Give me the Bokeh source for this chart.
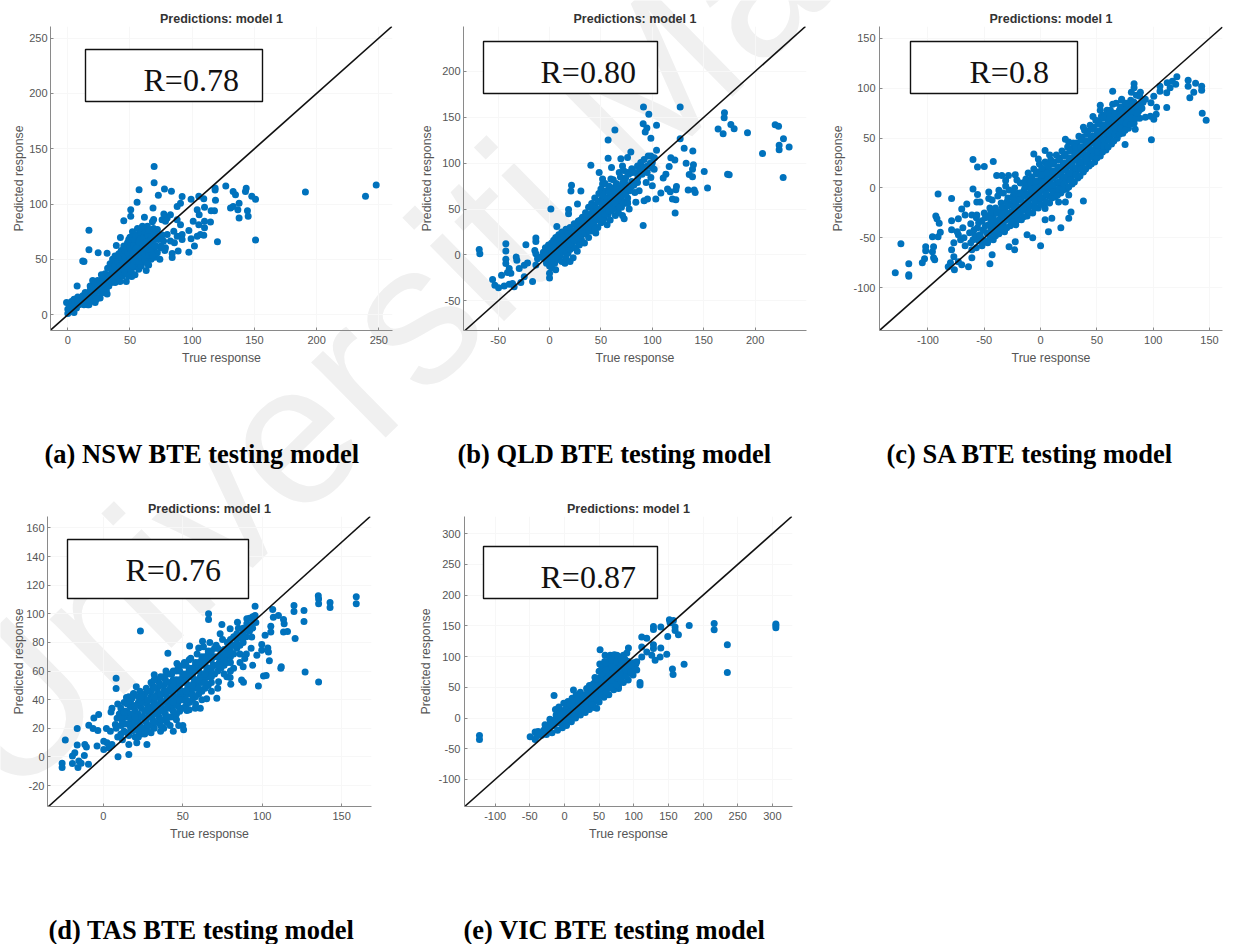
from bokeh.embed import file_html
from bokeh.resources import INLINE
from bokeh.layouts import column, row
from bokeh.models import Range1d, Label, BoxAnnotation, FixedTicker, PrintfTickFormatter
from bokeh.plotting import figure

TITLE = "Predictions: model 1"
XLABEL = "True response"
YLABEL = "Predicted response"
WATERMARK = "Universiti Malaya"

r_a, r_b, r_c, r_d, r_e = "R=0.78", "R=0.80", "R=0.8", "R=0.76", "R=0.87"
cap_a = "(a) NSW BTE testing model"
cap_b = "(b) QLD BTE testing model"
cap_c = "(c) SA BTE testing model"
cap_d = "(d) TAS BTE testing model"
cap_e = "(e) VIC BTE testing model"

xt_a = [0, 50, 100, 150, 200, 250]
yt_a = [0, 50, 100, 150, 200, 250]
xt_b = [-50, 0, 50, 100, 150, 200]
yt_b = [-50, 0, 50, 100, 150, 200]
xt_c = [-100, -50, 0, 50, 100, 150]
yt_c = [-100, -50, 0, 50, 100, 150]
xt_d = [0, 50, 100, 150]
yt_d = [-20, 0, 20, 40, 60, 80, 100, 120, 140, 160]
xt_e = [-100, -50, 0, 50, 100, 150, 200, 250, 300]
yt_e = [-100, -50, 0, 50, 100, 150, 200, 250, 300]

pts_a = [
 (69.4,134),(69.4,119.3),(57.3,113),(72.8,108),(77.7,113.7),(83.3,111.6),(55.7,101.7),(68.5,96.4),(50.6,94.9),(50.6,89),
 (45,85),(61.6,88),(69,86),(17,76.4),(42.3,69.8),(39,62.6),(17,58.8),(24.4,56),(12,48.6),(13,48),(31.6,55.5),(7.5,26),
 (51.4,34.6),(31.6,18.8),(22,11),(16,9),(127,116.3),(118.4,112.8),(118.4,114.5),(132.9,111.3),(134.8,108.3),(143.4,114.3),(142.8,111.3),
 (147.9,107),(150.9,104.4),(191,111),(239.3,107),(247.9,117.2),(150.9,67.4),(120.3,65.9),(137.7,87.4),(144.4,94),(145,88.9),
 (136.7,94.9),(137.7,100.8),(130.8,96.4),(132.9,97.9),(117.9,94),(115.2,94),(118.7,103.5),(109.3,104.7),(105.3,107),(99.1,104.4),
 (91.9,106.8),(90.6,100.8),(87.9,97.9),(77.2,91),(104,94.9),(109.9,97),(105.6,90.4),(109.9,84.4),(114.7,83.8),(109.9,78.5),
 (105.3,81.4),(100.8,84.4),(106.6,72.5),(109.3,71.9),(104,71),(99.1,68.6),(101.8,62),(97.3,56.4),(88.7,57.6),(83.9,55.2),
 (83.9,51.6),(85.7,65),(91.9,72.5),(97.3,76),(90.6,81.4),(87.9,85.9),(79.9,87.4),(75.8,85.9),(82.5,90.4),(78.5,84.4),
 (85.2,75.5),(79.9,72.5),(87.9,71),(91.9,68),(77,66.5),(82.5,66.5),(78.5,60.6),(74.5,60.6),
 (0,1),(0,5),(1,9),(-1,11),(2,3),(3,12),(2,7),(4,5),(5,2),(5,14),(6,9),(7,6),(8,16),(8,12),(9,9),(10,13),(11,11),(12,17),
 (12,14),(13,9),(14,20),(15,16),(15,12),(16,18),(17,14),(17,9),(18,22),(18,26),(19,19),(20,15),(20,31),(21,24),(22,28),(22,18),
 (24,21),(24,31),(25,25),(26,30),(26,15),(27,20),(28,33),(28,24),(30,27),(30,37),(31,22),(32,42),(32,31),(33,26),(34,36),(34,46),
 (35,29),(35,41),(36,33),(36,50),(37,44),(37,37),(38,29),(38,53),(39,48),(39,40),(40,34),(40,44),(41,55),(41,51),(42,38),(42,30),
 (43,47),(43,58),(44,42),(44,35),(45,53),(45,62),(46,46),(46,38),(47,57),(47,30),(48,50),(48,42),(48,65),(49,35),(49,60),(50,54),
 (50,46),(50,70),(51,64),(51,39),(52,50),(52,58),(52,75),(53,43),(53,68),(54,62),(54,36),(55,54),(55,72),(55,47),(56,78),(56,66),
 (57,58),(57,41),(58,50),(58,74),(59,62),(59,44),(60,70),(60,54),(60,80),(61,77),(61,48),(62,66),(62,58),(63,73),(63,40),(64,52),
 (64,80),(65,62),(65,45),(66,70),(66,57),(67,76),(67,50),(68,64),(68,84),(69,58),(69,73),(70,68),(70,52),(71,62),(72,77),(72,56),
 (73,68),(74,50),(75,62),(76,72),(78,58),
 (36,42),(38,44),(40,48),(42,44),(42,52),(44,48),(44,56),(46,52),(46,58),(47,44),(48,56),(49,46),(49,68),(50,60),(50,50),(51,58),
 (52,44),(52,70),(53,56),(53,62),(54,48),(54,68),(55,60),(56,52),(56,72),(57,66),(57,48),(58,56),(58,68),(59,52),(59,74),(60,60),
 (60,64),(61,56),(61,70),(62,50),(62,74),(63,60),(63,66),(64,46),(64,72),(65,54),(65,76),(66,64),(67,58),(67,68),(68,54),(69,78),
 (70,62),(71,72),(26,24),(28,28),(29,20),(31,32),(33,35),(27,36),(24,26),(21,20),(18,13),(23,14),
]

pts_b = [
 (-68.4,6.1),(-67.8,1.4),(-42.5,12.3),(-42.5,4.3),(-42.5,-4.7),(-42.5,-9.4),(-32.4,-2.2),(-31.8,-5.8),(-23,11.2),(-13.3,18.4),
 (-13.3,14.8),(-14.3,5),(-13.3,1.4),(-11.7,-4),(-21.4,-8.7),(-24.6,-11.2),(-29.5,-14.8),(-39.2,-14.8),(-40.9,-19),(-37.6,-20),
 (-46.7,-22),(-55.4,-26.7),(-53.2,-32.9),(-49.6,-35.7),(-44.1,-33.9),(-39.2,-31.8),(-34.4,-34.7),(-36,-31),(-27.9,-30),(-24.6,-23.8),
 (-16.5,-29),(-13.3,-11),(1.3,50),(7.1,31),(21.4,76),(20.8,69.7),(30.5,69.7),(18.5,49.5),(18.5,44.8),(27.2,55.6),
 (40.2,97.8),(48.3,89.9),(57,105.4),(57,125.3),(63.6,136.1),(60.3,95.3),(69.4,105),(75.9,106.1),(79.1,112.3),(91.4,161.4),
 (96.6,153.4),(127.1,161.4),(91.1,143),(94.7,138.3),(93.1,133.9),(104.1,141.5),(98.6,127.1),(127.1,126.7),(104.1,114.1),(131,116.2),
 (139.4,113.4),(118,106),(121.9,103.6),(116.4,96.4),(132.9,100),(140,98.2),(139.1,93.5),(150.5,91),(135.9,87.7),(139.1,85.2),
 (113.2,88),(110.6,83.8),(153.7,72.9),(134.9,70.8),(140.7,70.8),(141.7,68.2),(123.5,74.7),(122.9,71),(114.8,71.8),(117.4,69),
 (108.3,67.5),(119.6,61),(122.9,60.3),(122.2,45.8),(91.1,32),(192.6,133.2),(164,137.2),(168.9,132),(169.9,149.5),(170.2,154.9),
 (176.4,142.2),(179.6,137.5),(173.2,88),(174.8,87.4),(207.2,110.5),(219.5,141.9),(222.8,140.4),(227.6,126.7),(223.4,119.5),
 (223.4,114.8),(233.1,117.7),(227.3,84.5),(101.8,93.5),(98.6,84.5),(94,79),(100,75.5),(95.3,61),(103.4,61),(92,59),(84,57.4),
 (75.9,57.4),(87.2,70),(83,68),(72.6,39.4),(71,43),(77.5,50.2),(66,53.8),(88.8,100.7),(92,104),(98.6,108),(100,100.7),(95.3,97),
 (85.6,97),(80.7,89.9),(75.9,89.9),(67.8,89.9),(71,97),(85.6,79),(79,73.6),(74,77.3),(59.7,82.7),(51.6,82.7),(51.6,77.3),
 (-8,-2),(-6,3),(-5,-4),(-4,8),(-3,1),(-3,-9),(-2,5),(-1,-3),(-1,11),(0,-12),(0,-20),(0,-25),(0,2),(1,7),(1,-6),(2,13),(2,-14),
 (3,0),(3,10),(4,-3),(4,16),(5,5),(5,-9),(6,19),(6,-16),(7,9),(7,1),(8,14),(8,-5),(9,22),(10,6),(10,-1),(11,17),(11,11),(12,25),
 (12,-7),(13,3),(14,20),(14,13),(15,8),(15,-9),(16,28),(16,-3),(17,16),(18,2),(18,23),(19,11),(20,30),(20,-7),(20,6),(21,18),
 (22,25),(22,13),(23,-3),(24,8),(24,34),(25,20),(26,28),(26,15),(27,4),(28,37),(28,22),(29,11),(30,32),(30,27),(31,17),(32,41),
 (32,36),(33,23),(34,30),(34,13),(35,46),(36,38),(36,25),(37,33),(38,52),(38,19),(39,44),(39,30),(40,37),(41,56),(41,26),(42,48),
 (42,40),(43,33),(44,62),(44,54),(45,45),(45,24),(46,38),(47,58),(47,30),(48,67),(48,50),(49,42),(50,72),(50,60),(50,35),(51,53),
 (52,46),(52,65),(53,40),(54,57),(54,78),(55,70),(55,50),(56,33),(57,62),(57,44),(58,75),(58,55),(59,38),(60,68),(60,48),(61,58),
 (62,82),(62,73),(63,52),(64,43),(65,65),(65,78),(66,55),(67,46),(68,72),(68,60),(69,85),(70,52),(70,64),(71,78),(72,92),(72,68),
 (73,58),(74,84),(75,74),(76,62),(77,88),(78,70),(80,94),(80,80),(82,76),(84,90),(86,85),(88,94),(90,88),(92,96),(95,90),(98,100),
 (100,95),(102,106),(96,108),
 (14,5),(16,12),(18,16),(20,12),(22,20),(24,16),(24,26),(26,22),(28,18),(28,30),(30,22),(30,38),(32,26),(34,34),(34,24),(36,30),
 (36,44),(38,36),(38,26),(40,42),(40,30),(42,34),(42,54),(44,46),(44,28),(46,50),(46,42),(48,44),(48,58),(50,48),(50,40),(52,56),
 (52,38),(54,50),(54,44),(56,62),(56,54),(58,48),(58,68),(60,56),(60,62),(62,60),(62,50),(64,70),(64,56),(66,62),(66,74),(68,52),
 (68,66),(70,72),(72,56),(72,80),(74,66),(76,72),(76,56),(2,3),(4,8),(6,-3),(6,12),(8,4),(10,11),(12,6),(-2,-6),(0,-5),(2,-6),(-4,-1),
]

pts_c = [
 (-129,-85),(-124,-56),(-117,-76),(-117,-87),(-117,-88.6),(-105,-75),(-103,-71),(-102,-59),(-102,-63),(-95,-59),(-96,-64),(-95,-70),
 (-94,-72),(-96,-49),(-91,-49),(-89,-44.5),(-90,-35.5),(-93,-28),(-92,-31),(-91,-6),(-79,-10.6),(-79,-33),(-79,-42),(-80,-75),
 (-82,-79),(-76.5,-82),(-74,-44),(-73,-47),(-71,-52),(-77,-55),(-79,-62),(-77,-69),(-73,-31),(-70,-21),(-65.5,-16),(-67,-27),
 (-61,-27),(-60,-1),(-60,28.5),(-56,21),(-50,21.6),(-42,26.5),(-56,-6.6),(-56.6,-14),(-53.7,-14),(-56.6,-27),(-46,-4),(-46,-10.6),
 (-39,12.6),(-34.4,12.6),(-28.5,12.6),(-22.5,13.3),(-31,7.6),(-37,-2.3),(-73,-74),(-64,-79),(-70,-77),(-61,-70),(-45,-76),(-43,-67),
 (-28,-59),(-23,-62),(-22.5,-54),(-12,-47),(-7,-50),(0,-58),(7,-44),(4,-32),(10,-30.5),(18,-40),(25,-30.5),(27,-24),(38,-13),
 (25,-7),(22,-14),(16,-14),(4,-20.6),(-6,34),(4,37.5),(-2,29),(22,49),(25,46),(38,61),(46.5,71.7),(53,83),(53,78),(64,97),
 (83,104.6),(83,100.6),(72,89),(80.6,96),(88.6,96),(98.4,48.5),(75,43.5),(84,59),(100.5,69),(97.5,72),(102.6,74),(103,81),
 (112,80.7),(98,85.6),(100.5,92),(106,97),(106,102),(112,95.6),(115,100.6),(112.4,105.6),(117,107),(121,111.6),(120,104),
 (131,108),(131,102),(137.6,105),(143,102),(143,98),(136,96),(132.5,90.6),(143.5,75),(147,68),(93,89),(88.6,79),(93,71),(77,62),
 (-68,-50),(-69,-40),(-67,-58),(-62,-55),(-63,-45),(-61,-62),(-62,-36),(-57,-60),(-58,-48),(-56,-40),(-57,-30),(-55,-53),
 (-52,-58),(-53,-50),(-51,-42),(-52,-33),(-50,-25),(-47,-55),(-48,-45),(-46,-37),(-47,-28),(-45,-20),(-42,-52),(-43,-44),(-41,-36),
 (-42,-28),(-40,-20),(-43,-12),(-37,-46),(-38,-39),(-36,-31),(-37,-24),(-35,-15),(-38,-8),(-32,-44),(-33,-36),(-31,-29),(-32,-22),
 (-30,-14),(-33,-5),(-31,2),(-27,-38),(-28,-31),(-26,-24),(-27,-16),(-25,-9),(-28,-2),(-22,-37),(-23,-30),(-21,-23),(-22,-15),
 (-20,-8),(-23,0),(-21,8),(-17,-32),(-18,-25),(-16,-18),(-17,-10),(-15,-3),(-18,5),(-12,-28),(-13,-20),(-11,-13),(-12,-6),(-10,2),
 (-13,9),(-11,15),(-7,-25),(-8,-18),(-6,-11),(-7,-4),(-5,4),(-8,11),(-6,19),(-2,-20),(-3,-13),(-1,-6),(-2,2),(0,9),(-3,16),(-1,24),
 (3,-17),(2,-10),(4,-3),(3,4),(5,11),(2,18),(4,26),(8,-15),(7,-8),(9,-1),(8,6),(10,13),(7,20),(9,28),(8,33),(13,-9),(12,-2),(14,5),
 (13,12),(15,19),(12,26),(14,33),(18,-5),(17,2),(19,9),(18,16),(20,23),(17,30),(19,37),(23,-1),(22,6),(24,13),(23,20),(25,27),
 (22,34),(24,41),(28,4),(27,11),(29,18),(28,25),(30,32),(27,39),(29,45),(33,10),(32,17),(34,24),(33,31),(35,38),(32,45),(34,52),
 (38,16),(37,23),(39,30),(38,37),(40,44),(37,51),(39,58),(43,22),(42,29),(44,36),(43,43),(45,50),(42,57),(44,63),(48,26),(47,33),
 (49,40),(48,47),(50,54),(47,61),(49,68),(53,32),(52,39),(54,46),(53,53),(55,60),(52,67),(54,72),(58,38),(57,45),(59,52),(58,59),
 (60,66),(57,73),(59,78),(63,44),(62,51),(64,58),(63,65),(65,72),(62,78),(64,84),(68,50),(67,57),(69,64),(68,71),(70,78),(67,85),
 (73,55),(72,62),(74,69),(73,76),(75,83),(72,88),(78,60),(77,67),(79,74),(78,81),(80,88),(83,65),(82,72),(84,79),(83,86),(85,93),
 (88,70),(87,77),(89,84),(88,92),
 (-60,-52),(-59,-42),(-55,-35),(-54,-47),(-50,-53),(-49,-38),(-49,-30),(-45,-50),(-44,-40),(-44,-32),(-44,-24),(-40,-48),(-39,-42),
 (-39,-33),(-39,-25),(-35,-41),(-35,-35),(-34,-27),(-34,-19),(-30,-40),(-30,-32),(-29,-25),(-29,-18),(-29,-10),(-25,-34),(-25,-27),
 (-24,-19),(-24,-12),(-24,-4),(-20,-32),(-20,-26),(-19,-19),(-19,-12),(-19,-5),(-15,-29),(-15,-22),(-14,-15),(-14,-8),(-14,0),(-14,6),
 (-10,-24),(-10,-17),(-9,-9),(-9,-1),(-9,6),(-5,-20),(-5,-14),(-4,-7),(-4,0),(-4,7),(-4,14),(0,-16),(0,-10),(1,-2),(1,6),(1,13),(1,20),
 (5,-14),(5,-6),(6,1),(6,8),(6,15),(6,23),(10,-10),(11,-4),(11,3),(11,10),(11,17),(11,24),(15,-7),(16,-1),(16,6),(16,13),(16,21),(16,28),
 (20,-2),(21,4),(21,11),(21,18),(21,25),(21,32),(25,1),(26,8),(26,15),(26,22),(26,30),(26,37),(30,6),(31,13),(31,20),(31,28),(31,35),
 (31,41),(35,12),(36,19),(36,26),(36,33),(36,41),(36,48),(40,19),(41,26),(41,33),(41,40),(41,47),(41,54),(45,24),(46,31),(46,38),(46,45),
 (46,52),(46,59),(50,30),(51,36),(51,43),(51,50),(51,57),(51,64),(55,36),(56,42),(56,49),(56,56),(56,63),(56,70),(60,41),(61,48),(61,55),
 (61,62),(61,69),(61,75),(65,47),(66,54),(66,61),(66,68),(66,75),(70,54),(71,60),(71,67),(71,74),(71,81),(75,58),(76,65),(76,72),(76,79),
 (76,85),(80,64),(81,70),(81,77),(81,84),(85,70),(86,75),(86,82),(90,80),(91,86),
]

pts_d = [
 (-26,-4.4),(-26,-7.4),(-24,11.8),(-19.5,0.7),(-18,3),(-19.5,-4.6),(-16.5,19.9),(-16.5,8.3),(-15.5,-2.8),(-16,-7.4),(-14,-4.4),
 (-11.7,8.8),(-10.7,7),(-12,1),(-9.4,-5),(-9.2,22.2),(-6,27.2),(-3,29.6),(-6.5,19.9),(-3.5,18.5),(-4,7.6),(0.2,11),(2.3,10),
 (3.4,6.5),(0.2,5.3),(5.4,8.8),(1.9,19.9),(4.4,18),(9.2,0.2),(16,1.8),(16,8.8),(21,10),(27.4,8.8),(8,55),(8,47.8),(5.4,34),
 (4.8,31.4),(8.6,27),(7.5,22.6),(23.3,88),(20.7,49),(14.5,41.6),(19,44.3),(32,57.5),(39.4,60),(40.6,72.5),(46.3,65.3),(54.3,77.6),
 (60,76.2),(62.4,80.8),(66.2,100),(66.2,96),(74.6,92.6),(73.5,86),(79.8,89.6),(84.4,94.2),(95.5,105.3),(90.3,96.5),(90.3,93),
 (94.5,94.2),(95.5,98.8),(91.3,88.4),(93.4,83.8),(87.2,82.7),(101.8,85),(105.4,87.3),(105.4,91.4),(113.4,96),(113.8,93),(113.4,87.3),
 (115.9,87.7),(106.6,103),(107,97.7),(110.2,98.8),(120,105.8),(120,101.6),(126.3,102.3),(126.3,94.7),(120.7,82.7),(135.3,112.7),
 (135.5,110.4),(135.5,107),(142.7,108),(142.7,104.4),(159.2,112),(159.2,107),(99.7,78.5),(99.7,74.6),(103.5,76.2),(103.9,73.4),
 (96.6,71),(104.5,67.2),(94,64),(88,63),(89,68.8),(111.7,61.9),(112,63),(100.8,56.6),(102.5,57),(97.6,49.6),(88.2,52.2),(87,53.8),
 (80.2,50.8),(77.7,56),(79.8,55.6),(72.5,52.6),(71.4,41),(65,40.6),(127,59.3),(135.5,52.4),(61,34),(57.8,34),(52.6,32.5),(50.5,19),
 (50,22),(44,18),(47.4,22),(38,20),(92,90),(88,87),(85,90),(82,84),(78,80),(76,75),(84,76),(80,70),(86,72),(74,68),(82,62),
 (9,14),(8,20),(10,30),(9,37),(12,12),(13,18),(12,25),(14,32),(13,38),(16,15),(17,21),(15,28),(17,35),(16,42),(20,14),(19,20),(21,26),
 (20,32),(22,38),(19,44),(24,16),(23,22),(25,28),(24,34),(26,40),(23,46),(28,18),(27,24),(29,30),(28,36),(30,42),(27,48),(32,20),
 (31,26),(33,32),(32,38),(34,44),(31,50),(36,22),(35,28),(37,34),(36,40),(38,46),(35,52),(40,24),(39,30),(41,36),(40,42),(42,48),
 (39,54),(44,28),(43,34),(45,40),(44,46),(46,52),(43,58),(48,32),(47,38),(49,44),(48,50),(50,56),(47,62),(52,36),(51,42),(53,48),
 (52,54),(54,60),(51,66),(56,40),(55,46),(57,52),(56,58),(58,64),(55,69),(60,44),(59,50),(61,56),(60,62),(62,68),(59,72),(64,48),
 (63,54),(65,60),(64,66),(66,72),(63,77),(68,52),(67,58),(69,64),(68,70),(70,76),(67,80),(72,60),(73,66),(74,72),(71,78),(76,64),
 (77,70),(78,76),(75,82),(80,66),(81,78),(84,82),(88,90),(92,97),
 (11,16),(11,22),(11,28),(11,34),(15,17),(15,23),(15,31),(15,37),(18,18),(18,24),(18,30),(18,36),(18,41),(22,18),(22,24),(22,30),(22,36),
 (22,42),(26,20),(26,26),(26,32),(26,38),(26,44),(30,22),(30,28),(30,34),(30,40),(30,46),(30,52),(34,24),(34,30),(34,36),(34,42),(34,48),
 (34,54),(38,26),(38,32),(38,38),(38,44),(38,50),(38,56),(42,28),(42,34),(42,40),(42,46),(42,52),(42,58),(46,30),(46,36),(46,42),(46,48),
 (46,54),(46,60),(50,34),(50,40),(50,46),(50,52),(50,58),(50,64),(54,38),(54,44),(54,50),(54,56),(54,62),(54,68),(58,42),(58,48),(58,54),
 (58,60),(58,66),(62,46),(62,52),(62,58),(62,64),(62,70),(66,50),(66,56),(66,62),(66,68),(66,74),(70,58),(70,64),(70,70),(74,62),(74,66),
 (74,74),(78,66),(78,72),(82,72),(82,78),(86,78),(90,84),(94,90),(94,98),
 (13,23),(13,31),(17,27),(17,39),(20,24),(20,28),(20,36),(24,20),(24,28),(24,38),(24,42),(28,22),(28,28),(28,34),(28,40),(28,46),(32,24),
 (32,30),(32,36),(32,42),(32,48),(32,54),(36,26),(36,32),(36,38),(36,44),(36,50),(36,56),(40,28),(40,34),(40,40),(40,46),(40,52),(40,58),
 (44,32),(44,38),(44,44),(44,50),(44,54),(44,60),(48,34),(48,40),(48,46),(48,54),(48,60),(52,40),(52,46),(52,52),(52,58),(52,64),(56,44),
 (56,50),(56,56),(56,62),(60,48),(60,54),(60,60),(60,66),(64,52),(64,58),(64,64),(64,70),(68,56),(68,62),(68,68),(68,74),(72,64),(72,70),
 (72,76),(76,68),(76,72),(80,74),(84,78),(88,84),(92,88),(96,94),(92,92),(88,80),(84,86),(80,82),(62,40),(58,37),(54,33),(46,26),(42,22),
 (36,18),(30,17),(26,16),(22,14),(68,46),(72,48),(76,58),(80,60),(86,66),(90,72),(93,76),
]

pts_e = [
 (-122.6,-28.5),(-122.6,-35),(-49.5,-30.6),(-42.3,-22.6),(-42.3,-35),(-15,36.6),(13,45.7),(51.4,111),(92.3,114),(111.5,131.7),
 (118.8,130),(111.5,115.6),(128.4,119.4),(128.4,113),(139,114),(128.4,149),(128.4,144),(139,148),(151.4,160),(152.4,155),(157.2,158.6),
 (159.6,148),(159.6,142.5),(164.4,135.5),(149,132.8),(180,150.5),(216,153.8),(216,143.5),(235,119.4),(235,74),(305,153),(305,150.5),
 (305,146.8),(172.6,87.6),(155.8,79.6),(156.7,71),(147.6,103.8),(138,99.5),(130.8,94),(126,102),(118.8,107.5),(111.5,99.5),
 (104.3,91.4),(104.3,78),(109,58),(109,53.8),(85,102),(75.5,102),(66,102),(58.6,102),(100,82),(103,88),(78,48),(46.6,16),
 (-40,-30),(-38,-22),(-33,-28),(-30,-20),(-28,-11),(-26,-27),(-22,-16),(-20,-7),(-21,-2),(-18,-24),(-15,-12),(-14,-3),(-12,5),(-13,14),
 (-10,-20),(-8,-8),(-7,2),(-6,11),(-8,18),(-3,-16),(-2,-6),(-1,4),(0,13),(-1,24),(3,-12),(4,-2),(5,8),(6,18),(5,27),(10,-6),(11,3),
 (10,13),(12,23),(11,32),(16,0),(17,10),(16,20),(18,30),(17,38),(23,5),(24,14),(22,24),(25,33),(23,42),(30,9),(29,19),(31,28),(30,38),
 (32,48),(36,14),(37,24),(35,33),(38,43),(36,53),(43,17),(44,27),(42,37),(45,47),(43,57),(44,66),(50,26),(49,36),(51,46),(50,56),
 (52,66),(50,76),(51,88),(57,34),(56,44),(58,54),(57,64),(59,74),(56,84),(58,92),(64,38),(63,48),(65,58),(64,68),(66,78),(63,88),
 (65,98),(71,46),(70,56),(72,66),(71,76),(73,86),(70,96),(72,103),(78,52),(77,62),(79,72),(78,82),(80,92),(77,101),(85,58),(84,68),
 (86,78),(85,88),(87,96),(92,62),(91,72),(93,82),(92,92),(90,106),(99,70),(98,80),(100,90),
 (-35,-25),(-25,-20),(-17,-6),(-12,-6),(-5,-4),(-4,6),(1,-4),(2,8),(3,20),(8,0),(8,10),(8,22),(14,8),(14,18),(14,28),(20,12),(20,22),(20,32),
 (27,14),(27,24),(27,34),(33,18),(33,28),(33,40),(40,22),(40,32),(40,44),(40,54),(47,30),(47,42),(47,52),(47,64),(54,38),(54,50),(54,60),
 (54,72),(54,82),(60,42),(61,54),(61,64),(60,78),(60,90),(68,50),(68,62),(68,72),(68,84),(68,94),(75,54),(75,68),(75,80),(75,92),(82,60),
 (82,72),(82,86),(82,96),(89,68),(89,78),(89,90),(96,74),(96,86),
]

x_range_a, y_range_a = (-13.9, 261), (-14.3, 260.5)
x_range_b, y_range_b = (-83.7, 250), (-82.3, 249)
x_range_c, y_range_c = (-143, 161.5), (-143, 162)
x_range_d, y_range_d = (-35.2, 168.8), (-34.6, 168)
x_range_e, y_range_e = (-144.2, 329), (-144, 328)


def panel(width, height, left, right, top, bottom, xr, yr, xticks, yticks, pts, ylabel_gap, tick_gap):
    p = figure(width=width, height=height, output_backend="svg", toolbar_location=None,
               x_range=Range1d(*xr), y_range=Range1d(*yr),
               min_border_left=left, min_border_right=right, min_border_top=top, min_border_bottom=bottom,
               title=TITLE, background_fill_alpha=0, border_fill_alpha=0, outline_line_color=None)
    p.title.align = "center"
    p.title.text_font = "Liberation Sans"
    p.title.text_font_size = "12.5px"
    p.title.text_font_style = "bold"
    p.title.text_color = "#333333"
    p.title.standoff = 2
    for ax, lab, t in ((p.xaxis[0], XLABEL, xticks), (p.yaxis[0], YLABEL, yticks)):
        ax.ticker = FixedTicker(ticks=t)
        ax.formatter = PrintfTickFormatter(format="%d")
        ax.axis_label = lab
        ax.axis_label_text_font = "Liberation Sans"
        ax.axis_label_text_font_size = "12.3px"
        ax.axis_label_text_font_style = "normal"
        ax.axis_label_text_color = "#555555"
        ax.major_label_text_font = "Liberation Sans"
        ax.major_label_text_font_size = "11px"
        ax.major_label_text_color = "#555555"
        ax.axis_line_color = "#8a8a8a"
        ax.major_tick_line_color = "#8a8a8a"
        ax.major_tick_in = 3
        ax.major_tick_out = 0
        ax.minor_tick_line_color = None
        ax.major_label_standoff = 5
    p.yaxis[0].major_label_standoff = tick_gap
    p.xaxis[0].axis_label_standoff = 4
    p.yaxis[0].axis_label_standoff = ylabel_gap
    p.grid.grid_line_color = "#f7f7f7"
    xs, ys = zip(*pts)
    p.scatter(list(xs), list(ys), size=7, color="#0072BD", line_color=None)
    lo, hi = max(xr[0], yr[0]), min(xr[1], yr[1])
    p.line([lo, hi], [lo, hi], line_color="#111111", line_width=1.6)
    return p


PAGE_W, PAGE_H = 1235, 944


def sheet(**kw):
    s = figure(width=PAGE_W, height=PAGE_H, output_backend="svg", toolbar_location=None,
               x_range=Range1d(0, PAGE_W), y_range=Range1d(PAGE_H, 0),
               x_axis_type=None, y_axis_type=None, min_border=0,
               background_fill_alpha=0, border_fill_alpha=0, outline_line_color=None, **kw)
    s.grid.visible = False
    return s


back = sheet(margin=(0, 0, -PAGE_H, 0))
back.add_layout(Label(x=40, y=835, text=WATERMARK, angle=44.5, angle_units="deg",
                      text_font="Liberation Sans", text_font_size="200px", text_color="#f0f0f0"))

over = sheet(margin=(-846, 0, 0, 0))


def r_box(l, r, t, b, txt, tx, mid):
    over.add_layout(BoxAnnotation(left=l, right=r, top=t, bottom=b, fill_color="white", fill_alpha=1,
                                  line_color="#111111", line_alpha=1, line_width=1.4))
    over.add_layout(Label(x=tx, y=mid, text=txt, text_font="Liberation Serif", text_font_size="32px",
                          text_color="#111111", text_baseline="middle"))


r_box(85, 262, 49, 101, r_a, 143, 79.5)
r_box(483, 657, 41, 93, r_b, 540, 71)
r_box(910, 1077, 41, 93, r_c, 969, 71)
r_box(67, 248, 539, 598, r_d, 125, 569)
r_box(483, 657, 546, 598, r_e, 540, 576)


def caption(txt, x, mid):
    over.add_layout(Label(x=x, y=mid, text=txt, text_font="Liberation Serif", text_font_size="26.5px",
                          text_font_style="bold", text_color="#000000", text_baseline="middle"))


caption(cap_a, 44, 453)
caption(cap_b, 457, 453)
caption(cap_c, 886, 453)
caption(cap_d, 48, 929)
caption(cap_e, 463, 929)

pa = panel(402, 490, 42, 18, 15, 168, x_range_a, y_range_a, xt_a, yt_a, pts_a, 0, 3)
pb = panel(415, 490, 53, 19, 15, 168, x_range_b, y_range_b, xt_b, yt_b, pts_b, 5, 3)
pc = panel(402, 490, 54, 5, 15, 168, x_range_c, y_range_c, xt_c, yt_c, pts_c, 5, 4)
pd_ = panel(402, 348, 39, 39, 15, 40, x_range_d, y_range_d, xt_d, yt_d, pts_d, -3, 3)
pe = panel(402, 348, 54, 20, 15, 40, x_range_e, y_range_e, xt_e, yt_e, pts_e, 2, 4)

page = column(back, row(pa, pb, pc, margin=(8, 0, 0, 8)), row(pd_, pe, margin=(0, 0, 0, 8)), over)
open("out.html", "w").write(file_html(page, INLINE))
